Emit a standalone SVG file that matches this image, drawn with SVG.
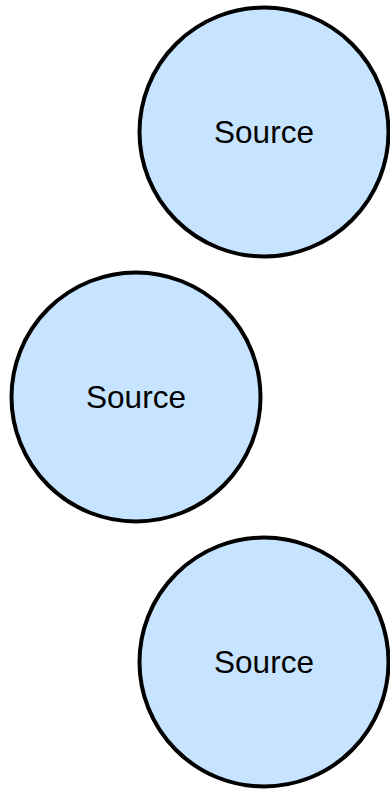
<svg xmlns="http://www.w3.org/2000/svg" width="390" height="790" viewBox="0 0 390 790">
<style>
.node circle{fill:#c6e4ff;stroke:#000;stroke-width:4}
.node text{font-family:"Liberation Sans",Arial,sans-serif;font-size:31.5px;fill:#000;text-anchor:middle}
</style>
<rect width="390" height="790" fill="#fff"/>
<g id="connectors"/>
<g id="source1" class="node"><circle cx="264" cy="132" r="124.5"/><text x="264" y="143">Source</text></g>
<g id="source2" class="node"><circle cx="136" cy="397" r="124.5"/><text x="136" y="408">Source</text></g>
<g id="source3" class="node"><circle cx="264" cy="662" r="124.5"/><text x="264" y="673">Source</text></g>
</svg>
